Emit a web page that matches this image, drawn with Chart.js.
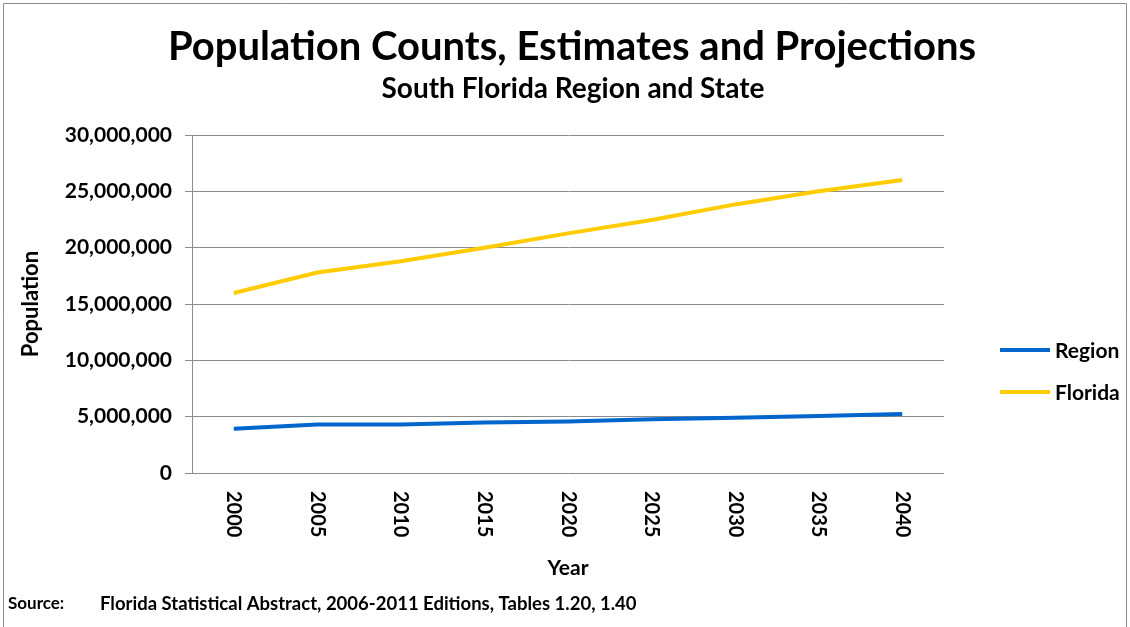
<!DOCTYPE html>
<html>
<head>
<meta charset="utf-8">
<script src="https://cdn.jsdelivr.net/npm/chart.js@4/dist/chart.umd.min.js"></script>
<style>
  body { margin: 0; background: #fff; }
  #wrap { width: 1130px; height: 627px; position: relative; }
</style>
</head>
<body>
<div id="wrap"><canvas id="myChart" width="1130" height="627"></canvas></div>
<script>
var years = ['2000', '2005', '2010', '2015', '2020', '2025', '2030', '2035', '2040'];
var regionPop = [3930000, 4310000, 4300000, 4490000, 4560000, 4760000, 4910000, 5060000, 5240000];
var floridaPop = [15980000, 17800000, 18800000, 20000000, 21270000, 22450000, 23840000, 25000000, 26000000];
var seriesNames = ['Region', 'Florida'];
var seriesColors = ['#0066cc', '#ffcc00'];
var titleText = 'Population Counts, Estimates and Projections';
var subtitleText = 'South Florida Region and State';
var sourceText = 'Florida Statistical Abstract, 2006-2011 Editions, Tables 1.20, 1.40';

var FONT = 'Lato, "Open Sans", sans-serif';

// titles, rotated year labels, legend, source note and frame
var extras = {
    id: 'extras',
    afterDraw: function (chart) {
        var ctx = chart.ctx;
        var xs = chart.scales.x;
        ctx.save();
        ctx.fillStyle = '#000';

        ctx.textAlign = 'center';
        ctx.textBaseline = 'middle';
        ctx.font = 'bold 40px ' + FONT;
        ctx.fillText(titleText, 572, 47);
        ctx.font = 'bold 28px ' + FONT;
        ctx.fillText(subtitleText, 573, 89);

        ctx.font = 'bold 20px ' + FONT;
        years.forEach(function (y, i) {
            var px = xs.getPixelForValue(i);
            ctx.save();
            ctx.translate(px, 491);
            ctx.rotate(Math.PI / 2);
            ctx.textAlign = 'left';
            ctx.textBaseline = 'middle';
            ctx.fillText(y, 0, 0);
            ctx.restore();
        });

        // legend
        var ly = [350, 392];
        chart.data.datasets.forEach(function (ds, i) {
            ctx.strokeStyle = ds.borderColor;
            ctx.lineWidth = 4;
            ctx.beginPath();
            ctx.moveTo(1000, ly[i]);
            ctx.lineTo(1050, ly[i]);
            ctx.stroke();
            ctx.fillStyle = '#000';
            ctx.textAlign = 'left';
            ctx.textBaseline = 'middle';
            ctx.font = 'bold 21px ' + FONT;
            ctx.fillText(ds.label, 1055, ly[i] + 1);
        });

        // source line
        ctx.textAlign = 'left';
        ctx.textBaseline = 'middle';
        ctx.font = 'bold 17px ' + FONT;
        ctx.fillText('Source:', 8, 604);
        ctx.font = 'bold 18.5px ' + FONT;
        ctx.fillText(sourceText, 100, 604);

        // frame
        ctx.strokeStyle = '#8c8c8c';
        ctx.lineWidth = 1;
        ctx.beginPath();
        ctx.moveTo(3.5, 627);
        ctx.lineTo(3.5, 3.5);
        ctx.lineTo(1126.5, 3.5);
        ctx.lineTo(1126.5, 627);
        ctx.stroke();
        ctx.restore();
    }
};

var ctx = document.getElementById('myChart').getContext('2d');
var chart = new Chart(ctx, {
    type: 'line',
    data: {
        labels: years,
        datasets: [{
            label: seriesNames[0],
            borderColor: seriesColors[0],
            data: regionPop
        }, {
            label: seriesNames[1],
            borderColor: seriesColors[1],
            data: floridaPop
        }]
    },
    options: {
        responsive: false,
        animation: false,
        devicePixelRatio: 1,
        elements: {
            line: { borderWidth: 4, tension: 0 },
            point: { radius: 0 }
        },
        layout: { padding: { left: 14, right: 186, top: 135, bottom: 42 } },
        plugins: {
            legend: { display: false },
            tooltip: { enabled: false },
            title: { display: false }
        },
        scales: {
            x: {
                offset: true,
                grid: { display: false },
                border: { display: false },
                ticks: { display: false },
                title: {
                    display: true,
                    text: 'Year',
                    color: '#000',
                    font: { family: FONT, size: 21, weight: 'bold' }
                },
                afterFit: function (scale) { scale.height = 112; }
            },
            y: {
                min: 0,
                max: 30000000,
                grid: { color: '#8c8c8c', tickLength: 7 },
                border: { color: '#8c8c8c' },
                ticks: {
                    stepSize: 5000000,
                    color: '#000',
                    padding: 13,
                    font: { family: FONT, size: 21, weight: 'bold' },
                    callback: function (v) { return v.toLocaleString('en-US'); }
                },
                title: {
                    display: true,
                    text: 'Population',
                    color: '#000',
                    font: { family: FONT, size: 22, weight: 'bold' }
                },
                afterFit: function (scale) { scale.width = 178; }
            }
        }
    },
    plugins: [extras]
});
</script>
</body>
</html>
